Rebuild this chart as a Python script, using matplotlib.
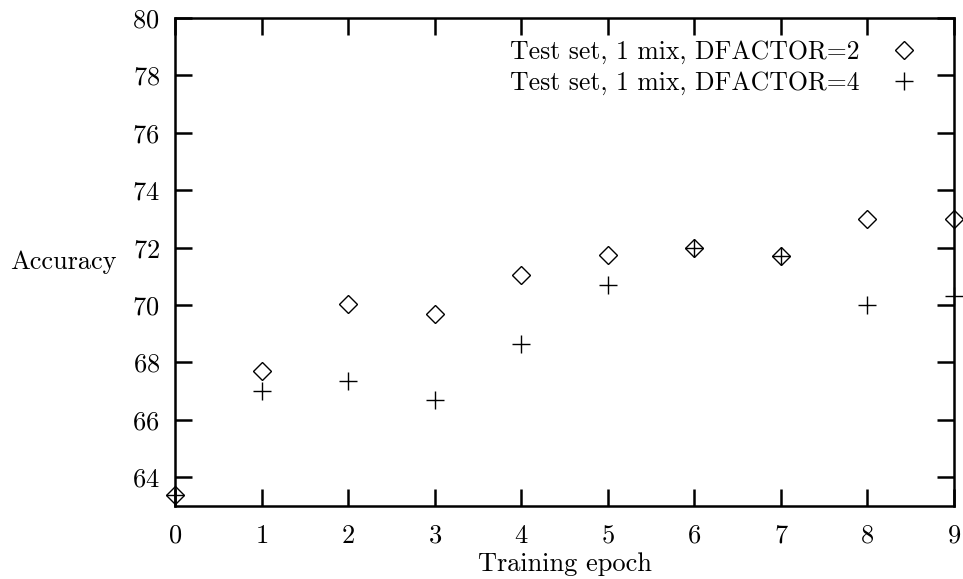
import numpy as np
import matplotlib.pyplot as plt

plt.rcParams['font.family'] = ['cmr10', 'DejaVu Serif']
plt.rcParams['mathtext.fontset'] = 'cm'
plt.rcParams['axes.formatter.use_mathtext'] = True

epochs = [0, 1, 2, 3, 4, 5, 6, 7, 8, 9]
acc_df2 = [63.4, 67.7, 70.05, 69.7, 71.05, 71.75, 72.0, 71.7, 73.0, 73.0]
acc_df4 = [63.4, 67.0, 67.35, 66.7, 68.65, 70.7, 72.0, 71.7, 70.0, 70.3]

fig = plt.figure(figsize=(9.63, 5.79), dpi=100)
ax = fig.add_axes([0.1817, 0.1261, 0.8090, 0.8428])

ax.plot(epochs, acc_df2, linestyle='none', marker='D', ms=9.5, mfc='none',
        mec='black', mew=1.0, label='Test set, 1 mix, DFACTOR=2', clip_on=False)
ax.plot(epochs, acc_df4, linestyle='none', marker='+', ms=13.5, mec='black',
        mew=1.0, label='Test set, 1 mix, DFACTOR=4', clip_on=False)

ax.set_xlim(0, 9)
ax.set_ylim(63, 80)
ax.set_xticks(range(0, 10))
ax.set_yticks(range(64, 81, 2))
ax.tick_params(direction='in', length=12, width=1.8, top=True, right=True,
               labelsize=19)
ax.tick_params(axis='x', pad=13)
ax.tick_params(axis='y', pad=11)
for s in ax.spines.values():
    s.set_linewidth(1.8)

ax.set_xlabel('Training epoch', fontsize=19, labelpad=3)
ax.set_ylabel('Accuracy', fontsize=19, rotation=0, ha='right', va='center', labelpad=11)

ax.legend(loc='upper right', bbox_to_anchor=(0.965, 0.975), borderaxespad=0,
          frameon=False, markerfirst=False, fontsize=18.5,
          handletextpad=1.2, labelspacing=0.25, handlelength=1.0)

fig.savefig('out.png', dpi=100)
